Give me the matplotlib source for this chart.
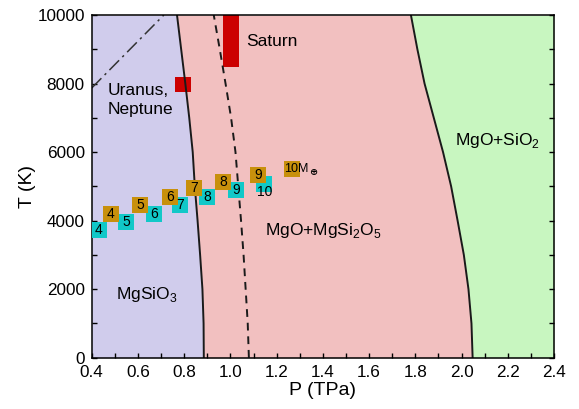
import matplotlib
matplotlib.use("Agg")
import matplotlib.pyplot as plt
import numpy as np

plt.rcParams['font.family'] = ['Liberation Sans', 'DejaVu Sans']
plt.rcParams['mathtext.fontset'] = 'custom'
plt.rcParams['mathtext.rm'] = 'Liberation Sans'

# phase boundaries, P (TPa) read along the temperature grid
T_grid = [0, 1000, 2000, 3000, 4000, 5000, 6000, 7000, 8000, 9000, 10000]
P_left = [0.885, 0.884, 0.879, 0.869, 0.858, 0.846, 0.837, 0.822, 0.805, 0.787, 0.769]
P_dash = [1.080, 1.075, 1.066, 1.057, 1.046, 1.034, 1.022, 1.003, 0.979, 0.954, 0.928]
P_right = [2.048, 2.043, 2.030, 2.010, 1.983, 1.955, 1.920, 1.880, 1.840, 1.809, 1.781]

# Uranus/Neptune adiabat (dash-dot)
P_un = [0.40, 0.712]
T_un = [7870, 10000]

# planet core conditions
saturn_P = [0.970, 1.037]
saturn_T = [8490, 10000]
uranus_P = [0.762, 0.831]
uranus_T = [7744, 8181]

# super-Earth cores (cyan / gold)
cyan_P = [0.430, 0.550, 0.671, 0.781, 0.900, 1.024, 1.147]
cyan_T = [3741, 3950, 4193, 4470, 4695, 4894, 5074]
gold_P = [0.482, 0.611, 0.740, 0.842, 0.970, 1.119, 1.265]
gold_T = [4193, 4456, 4700, 4966, 5133, 5340, 5500]
masses = ['4', '5', '6', '7', '8', '9', '10']

fig = plt.figure(figsize=(5.79, 4.09), dpi=100)
ax = fig.add_axes([0.1584, 0.1254, 0.7984, 0.8379])

# fill the phase fields
ax.fill_betweenx(T_grid, 0.4, P_left, color='#d0ccec', lw=0)
ax.fill_betweenx(T_grid, P_left, P_right, color='#f2c0c0', lw=0)
ax.fill_betweenx(T_grid, P_right, 2.4, color='#c8f6c0', lw=0)

ax.plot(P_left, T_grid, color='#1a1a1a', lw=1.4)
ax.plot(P_right, T_grid, color='#1a1a1a', lw=1.4)
ax.plot(P_dash, T_grid, color='#1a1a1a', lw=1.4, ls=(0, (4, 3)))
ax.plot(P_un, T_un, color='#333333', lw=1.1, ls=(0, (9, 3, 1.5, 3)))

ax.fill_between(saturn_P, saturn_T[0], saturn_T[1], color='#cc0000', lw=0)
ax.fill_between(uranus_P, uranus_T[0], uranus_T[1], color='#cc0000', lw=0)

# squares with mass labels
ax.plot(cyan_P, cyan_T, 's', ms=11.2, mew=0, color='#11c8c8', zorder=4)
ax.plot(gold_P, gold_T, 's', ms=11.2, mew=0, color='#c8900c', zorder=5)
for i, m in enumerate(masses):
    dy = -6 if m == '10' else 0
    ax.annotate(m, (cyan_P[i], cyan_T[i]), xytext=(0, dy), textcoords='offset points',
                ha='center', va='center', fontsize=10, zorder=6)
    if m == '10':
        ax.annotate('10M', (gold_P[i], gold_T[i]), xytext=(-5.4, 0),
                    textcoords='offset points', ha='left', va='center', fontsize=9, zorder=6)
        ax.annotate('\u2295', (gold_P[i], gold_T[i]), xytext=(15.8, -2.2),
                    textcoords='offset points', ha='center', va='center', fontsize=7,
                    fontweight='bold', family='DejaVu Sans', zorder=6)
    else:
        ax.annotate(m, (gold_P[i], gold_T[i]), ha='center', va='center', fontsize=10, zorder=6)

# region labels
ax.text(0.507, 1830, 'MgSiO$_3$', fontsize=12.5, va='center')
ax.text(1.149, 3726, 'MgO+MgSi$_2$O$_5$', fontsize=12.5, va='center')
ax.text(1.971, 6350, 'MgO+SiO$_2$', fontsize=12.5, va='center')
ax.text(1.067, 9220, 'Saturn', fontsize=12.5, va='center')
ax.text(0.47, 7520, 'Uranus,\nNeptune', fontsize=12.5, va='center', linespacing=1.3)

ax.set_xlim(0.4, 2.4)
ax.set_ylim(0, 10000)
ax.set_xticks(np.arange(0.4, 2.41, 0.2))
ax.set_xticks(np.arange(0.4, 2.41, 0.1), minor=True)
ax.set_yticks(np.arange(0, 10001, 2000))
ax.set_yticks(np.arange(0, 10001, 1000), minor=True)
ax.xaxis.set_major_formatter(matplotlib.ticker.FormatStrFormatter('%.1f'))
ax.tick_params(which='both', direction='in', length=3.6, width=1, right=True,
               labelsize=12.3, pad=5)
for s in ax.spines.values():
    s.set_linewidth(1.1)
ax.set_xlabel('P (TPa)', fontsize=14, labelpad=2)
ax.set_ylabel('T (K)', fontsize=14, labelpad=1)

fig.savefig('out.png', dpi=100)
